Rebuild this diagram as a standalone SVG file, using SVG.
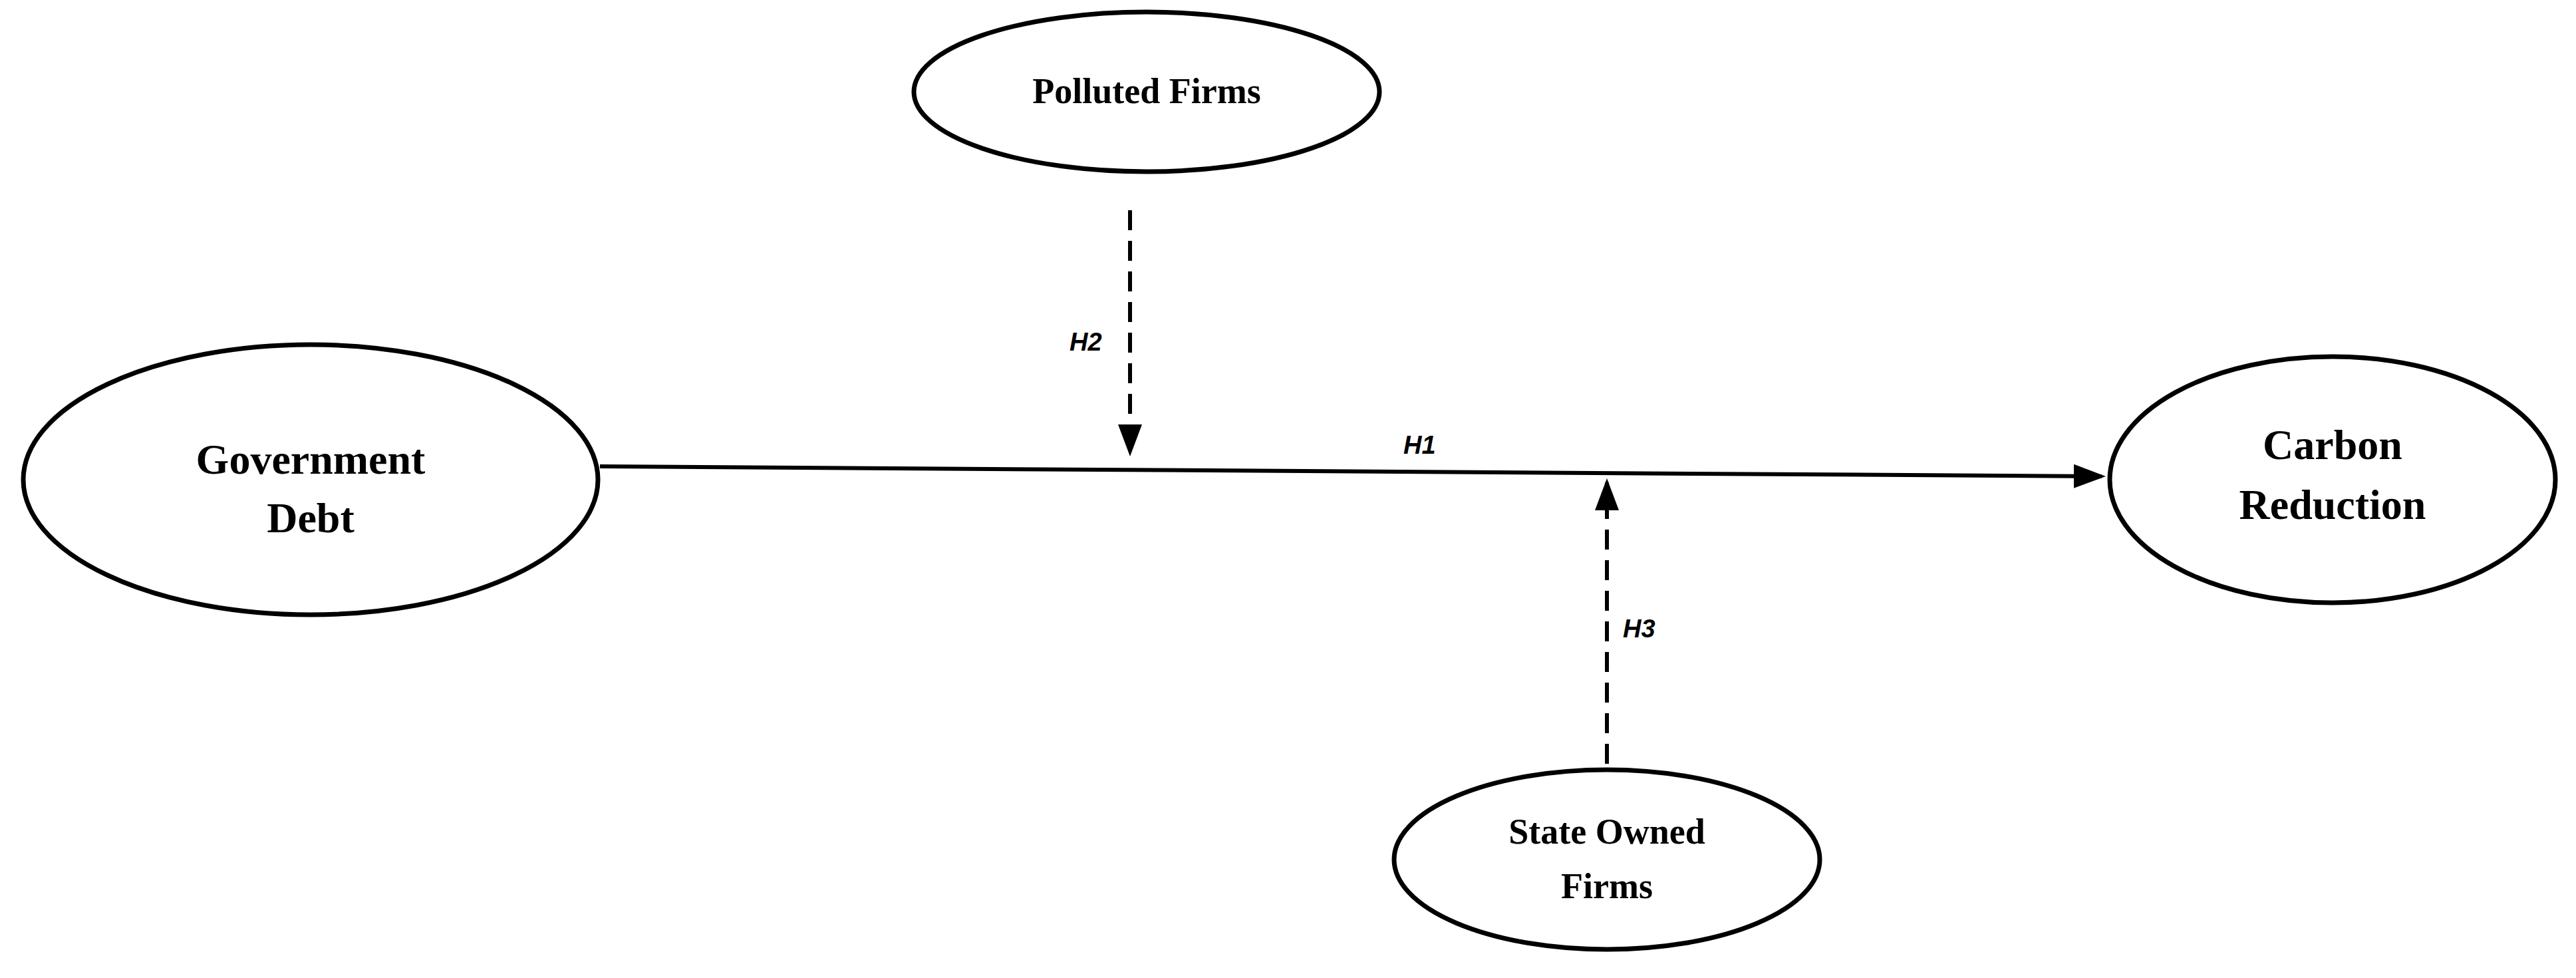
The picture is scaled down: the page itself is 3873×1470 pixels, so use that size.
<svg xmlns="http://www.w3.org/2000/svg" width="3873" height="1470" viewBox="0 0 3873 1470">
<style>
.n{fill:#fff;stroke:#000;stroke-width:7}
.t{font-family:"Liberation Serif",serif;font-weight:bold;text-anchor:middle;fill:#000}
.h{font-family:"Liberation Sans",sans-serif;font-weight:bold;font-style:italic;font-size:38px;fill:#000}
.c{stroke:#000;stroke-width:6;fill:none}
.d{stroke-dasharray:30 16}
</style>
<defs><marker id="a" markerWidth="8" markerHeight="8" refX="7" refY="4" orient="auto" markerUnits="strokeWidth"><path d="M0,1 L8,4 L0,7 Z" fill="#000"/></marker></defs>
<rect width="3873" height="1470" fill="#fff"/>
<g id="connectors">
<line class="c" x1="902" y1="701" x2="3160" y2="716" marker-end="url(#a)"/>
<line class="c d" x1="1699" y1="316" x2="1699" y2="680" marker-end="url(#a)"/>
<line class="c d" x1="2416" y1="1148" x2="2416" y2="725" marker-end="url(#a)"/>
<text class="h" x="2110" y="682">H1</text>
<text class="h" x="1608" y="527">H2</text>
<text class="h" x="2440" y="958">H3</text>
</g>
<g id="gov"><ellipse class="n" cx="467" cy="721" rx="432" ry="203"/>
<text class="t" font-size="64" x="467" y="712">Government</text><text class="t" font-size="64" x="467" y="800">Debt</text></g>
<g id="carbon"><ellipse class="n" cx="3507" cy="721" rx="335" ry="185"/>
<text class="t" font-size="64" x="3507" y="690">Carbon</text><text class="t" font-size="64" x="3507" y="780">Reduction</text></g>
<g id="polluted"><ellipse class="n" cx="1724" cy="138" rx="350" ry="120"/>
<text class="t" font-size="54" x="1724" y="155">Polluted  Firms</text></g>
<g id="soe"><ellipse class="n" cx="2416" cy="1292" rx="320" ry="135"/>
<text class="t" font-size="54" x="2416" y="1268">State Owned</text><text class="t" font-size="54" x="2416" y="1350">Firms</text></g>
</svg>
